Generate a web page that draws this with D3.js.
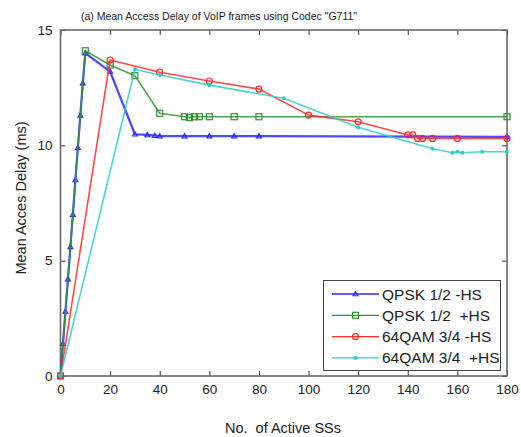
<!DOCTYPE html>
<html>
<head>
<meta charset="utf-8">
<script src="https://cdn.jsdelivr.net/npm/d3@7/dist/d3.min.js"></script>
<style>
  html, body { margin: 0; padding: 0; background: #fff; }
  svg { display: block; font-family: "Liberation Sans", Arial, Helvetica, sans-serif; }
</style>
</head>
<body>
<svg id="chart" width="521" height="437"></svg>
<script>
// Mean access delay (ms) versus number of active SSs
const titleText = '(a) Mean Access Delay of VoIP frames using Codec "G711"';
const xLabel = "No.  of Active SSs";
const yLabel = "Mean Acces Delay (ms)";
const xTicks = [0, 20, 40, 60, 80, 100, 120, 140, 160, 180];
const yTicks = [0, 5, 10, 15];

const seriesNames = ["QPSK 1/2 -HS", "QPSK 1/2  +HS", "64QAM 3/4 -HS", "64QAM 3/4  +HS"];
const seriesColors = ["#2a2aff", "#2e962e", "#ff2a2a", "#2ccccc"];
const seriesMarkers = ["triangle", "square", "circle", "dot"];

const qpskNoHsX = [0, 1, 2, 3, 4, 5, 6, 7, 8, 9, 10, 20, 30, 35, 38, 40, 50, 60, 70, 80, 180];
const qpskNoHsY = [0, 1.4, 2.8, 4.2, 5.6, 7.0, 8.5, 9.9, 11.3, 12.7, 14.0, 13.2, 10.48, 10.45, 10.42, 10.4, 10.4, 10.4, 10.4, 10.4, 10.37];

const qpskHsX = [0, 10, 20, 30, 40, 50, 52, 54, 56, 60, 70, 80, 180];
const qpskHsY = [0, 14.1, 13.48, 13.02, 11.39, 11.24, 11.2, 11.24, 11.24, 11.24, 11.24, 11.24, 11.24];

const qamNoHsX = [0, 20, 40, 60, 80, 100, 120, 140, 142, 144, 146, 150, 160, 180];
const qamNoHsY = [0, 13.7, 13.17, 12.79, 12.44, 11.31, 11.02, 10.45, 10.45, 10.3, 10.3, 10.3, 10.3, 10.3];

const qamHsX = [0, 30, 40, 60, 90, 120, 150, 158, 160, 162, 170, 180];
const qamHsY = [0, 13.3, 13.05, 12.61, 12.04, 10.78, 9.85, 9.68, 9.72, 9.68, 9.72, 9.72];

const seriesX = [qpskNoHsX, qpskHsX, qamNoHsX, qamHsX];
const seriesY = [qpskNoHsY, qpskHsY, qamNoHsY, qamHsY];

const svg = d3.select("#chart");
const plotLeft = 60.5, plotRight = 507, plotTop = 30, plotBottom = 376;

const x = d3.scaleLinear().domain([0, 180]).range([plotLeft, plotRight]);
const y = d3.scaleLinear().domain([0, 15]).range([plotBottom, plotTop]);

// axes: inward ticks on all four sides
const tickLen = 5;
const axBottom = d3.axisBottom(x).tickValues(xTicks).tickSizeInner(-tickLen).tickSizeOuter(0).tickPadding(8);
const axTop = d3.axisTop(x).tickValues(xTicks).tickSizeInner(-tickLen).tickSizeOuter(0).tickFormat("");
const axLeft = d3.axisLeft(y).tickValues(yTicks).tickSizeInner(-tickLen).tickSizeOuter(0).tickPadding(8);
const axRight = d3.axisRight(y).tickValues(yTicks).tickSizeInner(-tickLen).tickSizeOuter(0).tickFormat("");

function styleAxis(g) {
  g.select(".domain").remove();
  g.selectAll(".tick line").attr("stroke", "#333").attr("stroke-width", 1);
  g.selectAll(".tick text").attr("fill", "#222").attr("font-size", 13.5).attr("font-family", null);
}

svg.append("g").attr("transform", `translate(0,${plotBottom})`).call(axBottom).call(styleAxis);
svg.append("g").attr("transform", `translate(0,${plotTop})`).call(axTop).call(styleAxis);
svg.append("g").attr("transform", `translate(${plotLeft},0)`).call(axLeft).call(styleAxis);
svg.append("g").attr("transform", `translate(${plotRight},0)`).call(axRight).call(styleAxis);

// frame
svg.append("rect")
  .attr("x", plotLeft).attr("y", plotTop)
  .attr("width", plotRight - plotLeft).attr("height", plotBottom - plotTop)
  .attr("fill", "none").attr("stroke", "#6a6a6a").attr("stroke-width", 1.6);

const line = d3.line().x(d => x(d[0])).y(d => y(d[1]));

function drawMarker(g, kind, cx, cy, color) {
  if (kind === "triangle") {
    g.append("path")
      .attr("d", `M${cx},${cy - 2.5}L${cx + 2.5},${cy + 1.8}L${cx - 2.5},${cy + 1.8}Z`)
      .attr("fill", "none").attr("stroke", color).attr("stroke-width", 1.1);
  } else if (kind === "square") {
    g.append("rect").attr("x", cx - 3).attr("y", cy - 3).attr("width", 6).attr("height", 6)
      .attr("fill", "none").attr("stroke", color).attr("stroke-width", 1.2);
  } else if (kind === "circle") {
    g.append("circle").attr("cx", cx).attr("cy", cy).attr("r", 3)
      .attr("fill", "none").attr("stroke", color).attr("stroke-width", 1.2);
  } else {
    g.append("circle").attr("cx", cx).attr("cy", cy).attr("r", 2)
      .attr("fill", color).attr("stroke", "none");
  }
}

const plot = svg.append("g");
seriesNames.forEach((name, i) => {
  const pts = seriesX[i].map((v, j) => [v, seriesY[i][j]]);
  plot.append("path")
    .datum(pts)
    .attr("d", line)
    .attr("fill", "none")
    .attr("stroke", seriesColors[i])
    .attr("stroke-width", i === 0 ? 2.2 : 1.6)
    .attr("stroke-opacity", 0.85)
    .attr("stroke-linejoin", "round");
  const mg = plot.append("g");
  pts.forEach(p => drawMarker(mg, seriesMarkers[i], x(p[0]), y(p[1]), seriesColors[i]));
});

// legend
const lg = svg.append("g");
lg.append("rect").attr("x", 323.5).attr("y", 280.5).attr("width", 177).attr("height", 90)
  .attr("fill", "#fff").attr("stroke", "#444").attr("stroke-width", 1);
seriesNames.forEach((name, i) => {
  const ly = 294 + i * 21.3;
  lg.append("line").attr("x1", 332).attr("x2", 379).attr("y1", ly).attr("y2", ly)
    .attr("stroke", seriesColors[i]).attr("stroke-width", 1.3);
  drawMarker(lg, seriesMarkers[i], 355.5, ly, seriesColors[i]);
  lg.append("text").attr("x", 382).attr("y", ly + 5.5)
    .attr("font-size", 15.5).attr("fill", "#222")
    .style("white-space", "pre").text(name);
});

// title and axis labels
svg.append("text").attr("x", 219).attr("y", 20).attr("text-anchor", "middle")
  .attr("font-size", 10.5).attr("fill", "#222").text(titleText);
svg.append("text").attr("x", 283).attr("y", 433).attr("text-anchor", "middle")
  .attr("font-size", 14.5).attr("fill", "#222").style("white-space", "pre").text(xLabel);
svg.append("text").attr("transform", "translate(26,198) rotate(-90)").attr("text-anchor", "middle")
  .attr("font-size", 14.5).attr("fill", "#222").style("white-space", "pre").text(yLabel);
</script>
</body>
</html>
